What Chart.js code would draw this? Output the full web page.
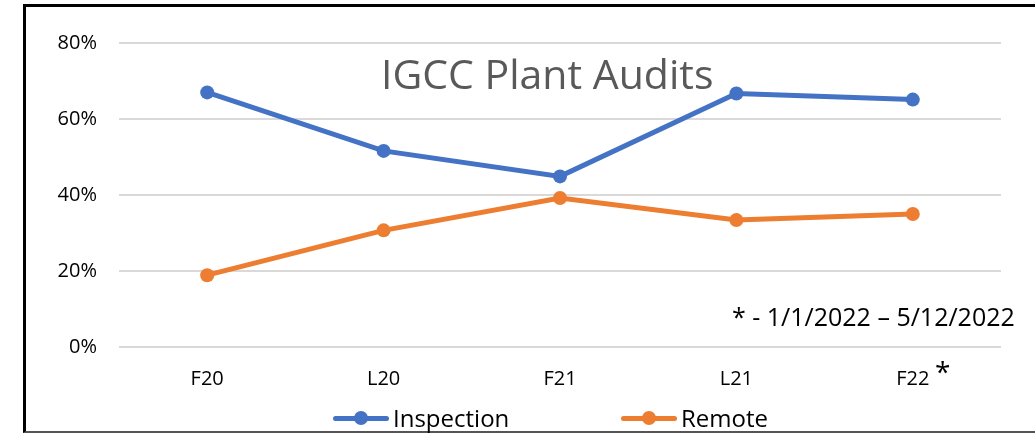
<!DOCTYPE html>
<html>
<head>
<meta charset="utf-8">
<script src="https://cdn.jsdelivr.net/npm/chart.js@4"></script>
<style>
  body { margin: 0; background: #fff; }
  #frame {
    position: absolute; left: 23px; top: 4px;
    width: 1009px; height: 424px;
    border-left: 3px solid #000; border-top: 3px solid #000; border-bottom: 2px solid #555;
  }
  #wrap { position: relative; width: 1009px; height: 424px; }
  .leg { position: absolute; top: 396px; height: 30px; font-family: "Open Sans", sans-serif; font-size: 24px; line-height: 30px; color: #000; }
  .mark { position: absolute; top: 13px; width: 56px; height: 5px; border-radius: 3px; }
  .mark i { position: absolute; left: 21px; top: -5px; width: 14px; height: 14px; border-radius: 50%; }
  .leg span { position: absolute; left: 60px; white-space: nowrap; }
</style>
</head>
<body>
<div id="frame">
  <div id="wrap">
    <canvas id="chart1" width="1009" height="424"></canvas>
    <div class="leg" style="left:307px"><div class="mark" style="background:#4472C4"><i style="background:#4472C4"></i></div><span>Inspection</span></div>
    <div class="leg" style="left:595px"><div class="mark" style="background:#ED7D31"><i style="background:#ED7D31"></i></div><span>Remote</span></div>
  </div>
</div>
<script>
const categories = ['F20', 'L20', 'F21', 'L21', 'F22'];
const inspection = [0.670, 0.516, 0.449, 0.667, 0.651];
const remote = [0.189, 0.307, 0.392, 0.334, 0.350];
const yTicks = [0, 0.2, 0.4, 0.6, 0.8];
const titleText = 'IGCC Plant Audits';
const noteText = '* - 1/1/2022 \u2013 5/12/2022';

const font = '"Open Sans", sans-serif';

// title + footnote drawn inside the plot like the original
const textPlugin = {
  id: 'texts',
  afterDraw(chart) {
    const ctx = chart.ctx;
    ctx.save();
    ctx.textBaseline = 'alphabetic';
    ctx.fillStyle = '#595959';
    ctx.font = '41px ' + font;
    ctx.textAlign = 'left';
    ctx.fillText(titleText, 355, 82, 336);
    ctx.fillStyle = '#000';
    ctx.font = '25px ' + font;
    ctx.fillText(noteText, 706, 319, 283);
    ctx.font = '28px ' + font;
    ctx.fillText('*', 909, 375);
    ctx.restore();
  }
};

const chart1 = new Chart(document.getElementById('chart1').getContext('2d'), {
  type: 'line',
  data: {
    labels: categories,
    datasets: [
      { label: 'Inspection', data: inspection, borderColor: '#4472C4', backgroundColor: '#4472C4' },
      { label: 'Remote', data: remote, borderColor: '#ED7D31', backgroundColor: '#ED7D31' }
    ]
  },
  options: {
    responsive: false,
    animation: false,
    layout: { padding: { left: 0, right: 34, top: 36, bottom: 24 } },
    plugins: {
      legend: { display: false },
      title: { display: false },
      tooltip: { enabled: false }
    },
    elements: {
      line: { borderWidth: 5, tension: 0 },
      point: { radius: 7, borderWidth: 0 }
    },
    scales: {
      x: {
        offset: true,
        grid: { display: false },
        border: { display: false },
        ticks: { color: '#000', padding: 12, font: { family: font, size: 20 } },
        afterFit: s => { s.height = 60; }
      },
      y: {
        min: 0,
        max: 0.8,
        afterBuildTicks: s => { s.ticks = yTicks.map(v => ({ value: v })); },
        grid: { color: '#D9D9D9', lineWidth: 2, drawTicks: false },
        border: { display: false },
        ticks: {
          color: '#000', padding: 22, font: { family: font, size: 20 },
          callback: v => Math.round(v * 100) + '%'
        },
        afterFit: s => { s.width = 93; }
      }
    }
  },
  plugins: [textPlugin]
});
</script>
</body>
</html>
